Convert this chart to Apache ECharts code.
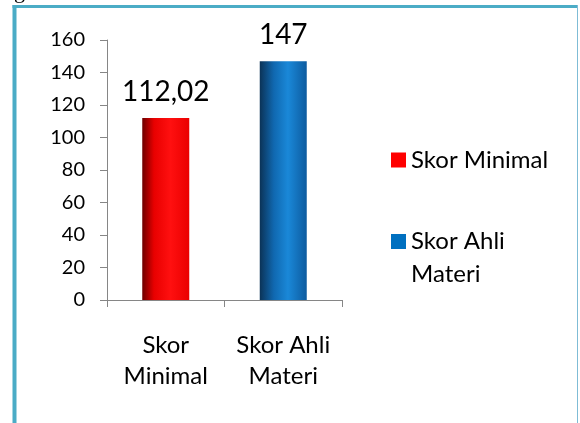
<!DOCTYPE html>
<html>
<head>
<meta charset="utf-8">
<script src="https://cdn.jsdelivr.net/npm/echarts@6/dist/echarts.min.js"></script>
<style>
html,body{margin:0;padding:0;background:#fff;}
#c{width:580px;height:423px;}
</style>
</head>
<body>
<div id="c"></div>
<script>
const categories = ['Skor\nMinimal', 'Skor Ahli\nMateri'];
const seriesNames = ['Skor Minimal', 'Skor Ahli Materi'];
const valuesMinimal = [112.02, '-'];
const valuesAhli = ['-', 147];
const yMin = 0, yMax = 160, yInterval = 20;

const FONT = 'Lato';
const chart = echarts.init(document.getElementById('c'), null, {renderer: 'canvas'});

function fmt(v) { return String(v).replace('.', ','); }

const redGrad = new echarts.graphic.LinearGradient(0, 0, 1, 0, [
  {offset: 0, color: '#6e0000'},
  {offset: 0.25, color: '#e80000'},
  {offset: 0.6, color: '#ff1010'},
  {offset: 1, color: '#ea0000'}
]);
const blueGrad = new echarts.graphic.LinearGradient(0, 0, 1, 0, [
  {offset: 0, color: '#0b3357'},
  {offset: 0.3, color: '#1068b0'},
  {offset: 0.6, color: '#1a88d8'},
  {offset: 1, color: '#0d5b9f'}
]);

chart.setOption({
  backgroundColor: '#ffffff',
  animation: false,
  textStyle: {fontFamily: FONT},
  grid: {left: 107, right: 238, top: 40, bottom: 123},
  xAxis: {
    type: 'category',
    data: categories,
    axisLine: {lineStyle: {color: '#868686', width: 1}},
    axisTick: {show: true, alignWithLabel: false, length: 7, lineStyle: {color: '#868686'}},
    axisLabel: {interval: 0, hideOverlap: false, fontFamily: FONT, fontSize: 24, color: '#000', lineHeight: 31, margin: 30}
  },
  yAxis: {
    type: 'value',
    min: yMin, max: yMax, interval: yInterval,
    axisLine: {show: true, lineStyle: {color: '#868686', width: 1}},
    axisTick: {show: true, length: 7, lineStyle: {color: '#868686'}},
    splitLine: {show: false},
    axisLabel: {fontFamily: FONT, fontSize: 20, color: '#000', margin: 22}
  },
  legend: [
    {
      data: [seriesNames[0]],
      orient: 'vertical', left: 391, top: 148, padding: 0,
      itemWidth: 15, itemHeight: 15, icon: 'rect', itemGap: 0,
      itemStyle: {color: '#ff0000'},
      textStyle: {fontFamily: FONT, fontSize: 24, color: '#000', lineHeight: 24}
    },
    {
      data: [seriesNames[1]],
      orient: 'vertical', left: 391, top: 192, padding: 0,
      itemWidth: 15, itemHeight: 15, icon: 'rect', itemGap: 0,
      itemStyle: {color: '#0070c0'},
      formatter: function () { return '\nSkor Ahli\nMateri'; },
      textStyle: {fontFamily: FONT, fontSize: 24, color: '#000', lineHeight: 33}
    }
  ],
  series: [
    {
      name: seriesNames[0], type: 'bar', data: valuesMinimal,
      barWidth: '40%', barGap: '-100%',
      itemStyle: {color: redGrad},
      label: {show: true, position: 'top', distance: 12, fontFamily: FONT, fontSize: 28, color: '#000',
        formatter: p => fmt(p.value)}
    },
    {
      name: seriesNames[1], type: 'bar', data: valuesAhli,
      barWidth: '40%', barGap: '-100%',
      itemStyle: {color: blueGrad},
      label: {show: true, position: 'top', distance: 12, fontFamily: FONT, fontSize: 28, color: '#000',
        formatter: p => fmt(p.value)}
    }
  ],
  graphic: [
    {type: 'line', shape: {x1: 14.5, y1: 5, x2: 14.5, y2: 430}, style: {stroke: '#4BACC6', lineWidth: 4}},
    {type: 'line', shape: {x1: 12.5, y1: 6.5, x2: 578, y2: 6.5}, style: {stroke: '#4BACC6', lineWidth: 3}},
    {type: 'line', shape: {x1: 577.5, y1: 5, x2: 577.5, y2: 430}, style: {stroke: '#7fbcd6', lineWidth: 1}},
    {type: 'text', x: 14, y: -19, style: {text: 'g', x: 0, y: 0, align: 'left', verticalAlign: 'top', font: '22px "Liberation Serif"', fill: '#000'}}
  ]
});
</script>
</body>
</html>
